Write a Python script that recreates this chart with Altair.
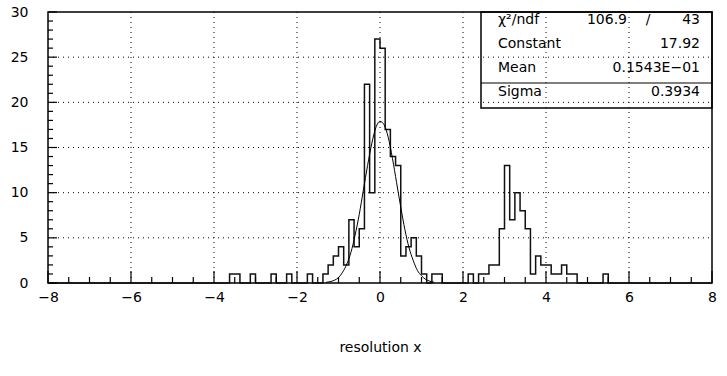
import altair as alt
import pandas as pd

# ---- histogram data (bin width 0.125 over [-8, 8]) ----
bin_lo = [-3.625, -3.5, -3.125, -2.625, -2.25, -1.75, -1.375, -1.25,
          -1.125, -1.0, -0.875, -0.75, -0.625, -0.5, -0.375, -0.25, -0.125,
          0.0, 0.125, 0.25, 0.375, 0.5, 0.625, 0.75, 0.875, 1.0, 1.25, 1.375,
          2.125, 2.375, 2.5, 2.625, 2.75,
          2.875, 3.0, 3.125, 3.25, 3.375, 3.5, 3.625, 3.75, 3.875, 4.0,
          4.125, 4.25, 4.375, 4.5, 4.625, 5.375]
counts = [1, 1, 1, 1, 1, 1, 1, 2,
          3, 4, 2, 7, 4, 6, 22, 10, 27,
          26, 17, 14, 13, 3, 4, 5, 3, 1, 1, 1,
          1, 1, 1, 2, 2,
          6, 13, 7, 10, 8, 6, 1, 3, 2, 2,
          1, 1, 2, 1, 1, 1]

# ---- fitted gaussian curve ----
fit_x = [-1.3, -1.2, -1.1, -1.0, -0.9, -0.8, -0.7, -0.6, -0.5, -0.4, -0.3, -0.2, -0.1,
         0.0, 0.1, 0.2, 0.3, 0.4, 0.5, 0.6, 0.7, 0.8, 0.9, 1.0, 1.1, 1.2, 1.3]
fit_y = [0.07, 0.15, 0.3, 0.6, 1.2, 2.1, 3.4, 5.3, 7.6, 10.3, 13.0, 15.4, 17.2,
         17.9, 17.5, 16.1, 13.8, 11.1, 8.4, 5.9, 3.9, 2.5, 1.4, 0.8, 0.4, 0.2, 0.09]

# ---- axes ----
x_labels = [-8, -6, -4, -2, 0, 2, 4, 6, 8]
y_labels = [0, 5, 10, 15, 20, 25, 30]
x_grid = [-6, -4, -2, 0, 2, 4, 6]
y_grid = [5, 10, 15, 20, 25]
x_minor = [v / 2 for v in range(-16, 17) if v % 4 != 0]
y_minor = [v for v in range(0, 31) if v % 5 != 0]

# ---- fit box ----
stat_names = ["χ²/ndf", "Constant", "Mean", "Sigma"]
stat_vals = ["", "17.92", "0.1543E−01", "0.3934"]
chi2_val = "106.9"
ndf_val = "43"

FONT = "DejaVu Sans"
FS = 14
W, H = 664, 271
BIN = 0.125

lookup = {round(lo * 1000): c for lo, c in zip(bin_lo, counts)}
edges = [-8 + i * BIN for i in range(129)]
hist_y = [lookup.get(round(e * 1000), 0) for e in edges[:-1]]
hist_df = pd.DataFrame({"x": edges, "y": hist_y + [0]})
fit_df = pd.DataFrame({"x": fit_x, "y": fit_y})

xs = alt.Scale(domain=[-8, 8], nice=False, zero=False)
ys = alt.Scale(domain=[0, 30], nice=False, zero=False)

x_axis = alt.Axis(values=x_labels, format="d", ticks=False, domain=False, grid=False,
                  labelFont=FONT, labelFontSize=FS, labelColor="black", labelPadding=7,
                  labelFlush=False, labelOverlap=False, title="resolution x",
                  titleFont=FONT, titleFontSize=FS, titleFontWeight="normal",
                  titleColor="black", titlePadding=36)
y_axis = alt.Axis(values=y_labels, format="d", ticks=False, domain=False, grid=False,
                  labelFont=FONT, labelFontSize=FS, labelColor="black", labelPadding=20,
                  labelFlush=False, labelOverlap=False, title="")


def X(field):
    return alt.X(field, scale=xs, axis=x_axis, title="resolution x")


def Y(field):
    return alt.Y(field, scale=ys, axis=y_axis, title="")


hist = alt.Chart(hist_df).mark_line(interpolate="step-after", color="#111",
                                    strokeWidth=1.5).encode(x=X("x:Q"), y=Y("y:Q"))

fit = alt.Chart(fit_df).mark_line(interpolate="monotone", color="black",
                                  strokeWidth=1).encode(x=X("x:Q"), y=Y("y:Q"))

gx = alt.Chart(pd.DataFrame({"x": x_grid})).mark_rule(
    color="black", strokeWidth=1, strokeDash=[1, 4]).encode(
    x=X("x:Q"), y=alt.value(0), y2=alt.value(H))
gy = alt.Chart(pd.DataFrame({"y": y_grid})).mark_rule(
    color="black", strokeWidth=1, strokeDash=[1, 4]).encode(
    y=Y("y:Q"), x=alt.value(0), x2=alt.value(W))

tx_major = alt.Chart(pd.DataFrame({"x": x_labels})).mark_rule(color="black", strokeWidth=1.2).encode(
    x=X("x:Q"), y=alt.value(H), y2=alt.value(H - 12))
tx_minor = alt.Chart(pd.DataFrame({"x": x_minor})).mark_rule(color="black", strokeWidth=1.2).encode(
    x=X("x:Q"), y=alt.value(H), y2=alt.value(H - 6))
ty_major = alt.Chart(pd.DataFrame({"y": y_labels})).mark_rule(color="black", strokeWidth=1.2).encode(
    y=Y("y:Q"), x=alt.value(0), x2=alt.value(9))
ty_minor = alt.Chart(pd.DataFrame({"y": y_minor})).mark_rule(color="black", strokeWidth=1.2).encode(
    y=Y("y:Q"), x=alt.value(0), x2=alt.value(5))

one = pd.DataFrame({"a": [0]})
BX0, BX1, BY0, BY1 = 433, W, 0, 96
box = alt.Chart(one).mark_rect(fillOpacity=0, stroke="black", strokeWidth=1.5).encode(
    x=alt.value(BX0), x2=alt.value(BX1), y=alt.value(BY0), y2=alt.value(BY1))
sep = alt.Chart(one).mark_rule(color="black", strokeWidth=1.2).encode(
    x=alt.value(BX0), x2=alt.value(BX1), y=alt.value(71))

ROW0 = 8
texts = []
for i, (nm, vl) in enumerate(zip(stat_names, stat_vals)):
    yy = ROW0 + 24 * i
    texts.append(alt.Chart(pd.DataFrame({"t": [nm]})).mark_text(
        align="left", baseline="middle", font=FONT, fontSize=FS, color="black").encode(
        x=alt.value(450), y=alt.value(yy), text="t:N"))
    if vl:
        texts.append(alt.Chart(pd.DataFrame({"t": [vl]})).mark_text(
            align="right", baseline="middle", font=FONT, fontSize=FS, color="black").encode(
            x=alt.value(652), y=alt.value(yy), text="t:N"))
texts.append(alt.Chart(pd.DataFrame({"t": [chi2_val]})).mark_text(
    align="right", baseline="middle", font=FONT, fontSize=FS, color="black").encode(
    x=alt.value(579), y=alt.value(ROW0), text="t:N"))
texts.append(alt.Chart(pd.DataFrame({"t": ["/"]})).mark_text(
    align="center", baseline="middle", font=FONT, fontSize=FS, color="black").encode(
    x=alt.value(600), y=alt.value(ROW0), text="t:N"))
texts.append(alt.Chart(pd.DataFrame({"t": [ndf_val]})).mark_text(
    align="right", baseline="middle", font=FONT, fontSize=FS, color="black").encode(
    x=alt.value(652), y=alt.value(ROW0), text="t:N"))

chart = alt.layer(hist, gx, gy, tx_major, tx_minor, ty_major, ty_minor, fit, box, sep, *texts).properties(
    width=W, height=H,
    padding={"left": 48, "top": 12, "right": 15, "bottom": 93},
    autosize=alt.AutoSizeParams(type="none"),
    background="white",
).configure_view(stroke="black", strokeWidth=1.5)

chart.save("out.html", embed_options={"renderer": "svg", "actions": False})
